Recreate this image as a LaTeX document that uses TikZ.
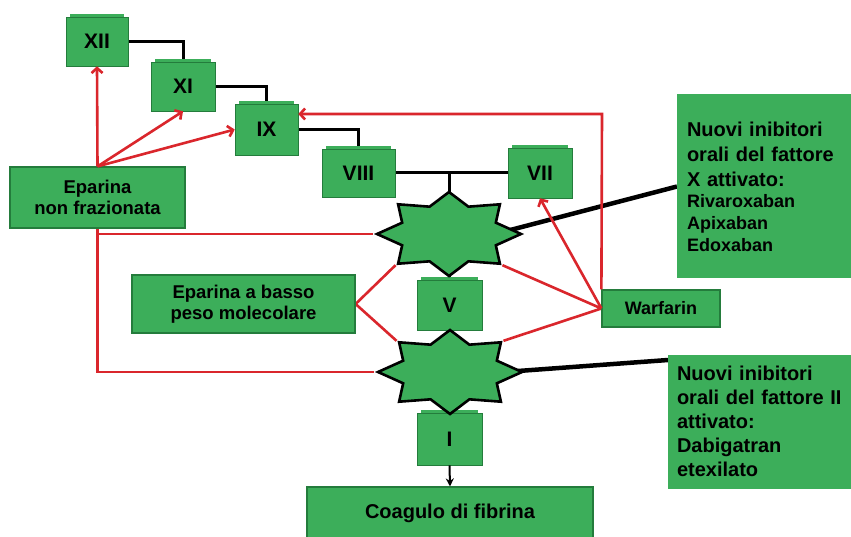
\documentclass[tikz,border=0pt]{standalone}
\usepackage{fontspec}
\setmainfont{Liberation Sans}
\usetikzlibrary{arrows.meta,shapes.geometric,backgrounds}
\definecolor{gfill}{RGB}{60,174,90}
\definecolor{gdark}{RGB}{36,124,60}
\definecolor{rline}{RGB}{218,38,44}
\tikzset{
  gbox/.style={draw=gdark, fill=gfill, line width=1.2pt, inner sep=0pt, align=center,
    font=\bfseries\fontsize{18.5}{21}\selectfont},
  factor/.style={gbox, line width=0.6pt, font=\bfseries\fontsize{21}{24}\selectfont},
  starnode/.style={star, star points=8, star point ratio=1.42, minimum size=84pt,
    inner sep=0pt, draw=black, line width=2.6pt, fill=gfill, xscale=1.714, transform shape},
  blk/.style={draw=black, line width=3pt},
  blkthick/.style={draw=black, line width=4.5pt},
  redline/.style={draw=rline, line width=2.6pt},
  redarrow/.style={redline, -{Straight Barb[length=5pt,width=11pt]}},
}
\begin{document}
\begin{tikzpicture}[x=1pt,y=-1pt]
\useasboundingbox (0,0) rectangle (851,537);
% factor boxes
\node[factor, minimum width=62pt, minimum height=49pt] (XII) at (97,41.5) {XII};
\node[factor, minimum width=64pt, minimum height=49pt] (XI) at (183,86.5) {XI};
\node[factor, minimum width=63pt, minimum height=51pt] (IX) at (266.5,129.5) {IX};
\node[factor, minimum width=73pt, minimum height=48pt] (VIII) at (358.5,173) {VIII};
\node[factor, minimum width=64pt, minimum height=50pt] (VII) at (540,173) {VII};
\node[factor, minimum width=65pt, minimum height=50pt] (V) at (449.5,305) {V};
\node[factor, minimum width=65pt, minimum height=52pt] (I) at (449.5,439) {I};
\foreach \n in {XII,XI,IX,VIII,VII,V,I}
  \fill[gfill] ([xshift=4pt]\n.north west) rectangle ([xshift=-4pt,yshift=3pt]\n.north east);
% stars
\begin{scope}[shift={(449,234)}]
  \node[starnode] (s1) at (0,0) {};
\end{scope}
\begin{scope}[shift={(450,372)}]
  \node[starnode] (s2) at (0,0) {};
\end{scope}
% other boxes
\node[gbox, minimum width=175pt, minimum height=61pt] (EnF) at (97.5,197.5) {Eparina\\non frazionata};
\node[gbox, minimum width=223pt, minimum height=58pt] (EbPM) at (243.5,304) {Eparina a basso\\peso molecolare};
\node[gbox, minimum width=118pt, minimum height=37pt, font=\bfseries\fontsize{18}{21}\selectfont] (War) at (661,308.5) {Warfarin};
\node[gbox, minimum width=286pt, minimum height=53pt, font=\bfseries\fontsize{20}{24}\selectfont] (Coag) at (450,513.5) {Coagulo di fibrina};
\node[gbox, line width=0pt, draw=gfill, minimum width=174pt, minimum height=183pt, text width=154pt, align=left,
  font=\bfseries\fontsize{20}{25}\selectfont] (NX) at (764,186.5)
  {Nuovi inibitori\\orali del fattore\\X attivato:\\[-4pt]{\fontsize{18}{22}\selectfont Rivaroxaban}\\[-3pt]{\fontsize{18}{22}\selectfont Apixaban}\\[-3pt]{\fontsize{18}{22}\selectfont Edoxaban}};
\node[gbox, line width=0pt, draw=gfill, minimum width=183pt, minimum height=133pt, text width=165pt, align=left,
  font=\bfseries\fontsize{20}{24}\selectfont] (NII) at (759.5,421.5)
  {Nuovi inibitori\\orali del fattore II\\attivato:\\Dabigatran\\etexilato};
\coordinate (wtop) at (602,114);
% arrow to clot
\draw[black, line width=2pt, -{Stealth[length=8pt,width=8pt]}] (I.south) -- (Coag.north);
% red arrows (front)
\draw[redarrow] (EnF.north) -- (XII.south);
\draw[redarrow] (EnF.north) -- (XI.south);
\draw[redarrow] (EnF.north) -- (IX.west);
\draw[redarrow] (War.west) -- (VII.south);
\draw[redarrow] (War.north west) -- (wtop) -- (IX.east |- wtop);
\begin{pgfonlayer}{background}
  \fill[white] (0,0) rectangle (851,537);
  \draw[blk] (XII.east) -| (XI.north);
  \draw[blk] (XI.east) -| (IX.north);
  \draw[blk] (IX.east) -| (VIII.north);
  \draw[blk] (VIII.east) -- (VII.west);
  \draw[blk] (s1.center |- VIII.east) -- (s1.center);
  \draw[blk] (s1.center) -- (V.center);
  \draw[blk] (s2.center) -- (I.center);
  \draw[blkthick] ([yshift=-12pt]s1.center) -- (NX.west);
  \draw[blkthick] ([yshift=-4pt]s2.center) -- ([yshift=-5pt]NII.north west);
  \draw[redline] (EnF.south) |- (s1.west);
  \draw[redline] (EnF.south) |- (s2.west);
  \draw[redline] (s1.outer point 4) -- (EbPM.east) -- (s2.outer point 2);
  \draw[redline] (s1.outer point 6) -- (War.west) -- (s2.outer point 8);
\end{pgfonlayer}
\end{tikzpicture}
\end{document}
